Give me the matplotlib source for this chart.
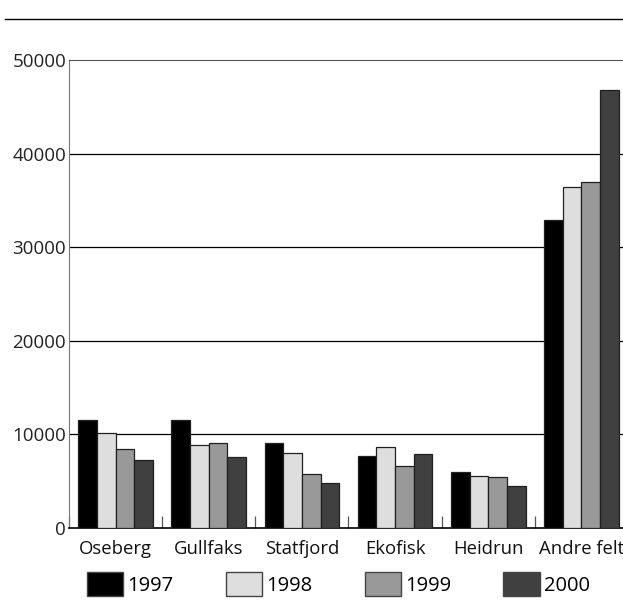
import matplotlib.pyplot as plt
from matplotlib.patches import Patch
from matplotlib.lines import Line2D
import numpy as np

plt.rcParams['font.family'] = ['Open Sans', 'DejaVu Sans']

fields = ['Oseberg', 'Gullfaks', 'Statfjord', 'Ekofisk', 'Heidrun', 'Andre felt']
years = ['1997', '1998', '1999', '2000']
v1997 = [11500, 11500, 9050, 7650, 5950, 32950]
v1998 = [10100, 8850, 7980, 8620, 5600, 36400]
v1999 = [8480, 9040, 5750, 6670, 5430, 37000]
v2000 = [7230, 7590, 4860, 7950, 4500, 46800]
colors = ['#000000', '#dedede', '#999999', '#404040']

W, H = 623, 611
fig = plt.figure(figsize=(W / 100, H / 100), dpi=100)
ax = fig.add_axes([69 / W, (H - 528) / H, (628 - 69) / W, (528 - 60) / H])

x = np.arange(len(fields))
bw = 0.2
series = [v1997, v1998, v1999, v2000]
for i, vals in enumerate(series):
    ax.bar(x + (i - 1.5) * bw, vals, bw, color=colors[i], edgecolor='#202020',
           linewidth=0.9, zorder=3)

ax.set_xlim(-0.5, len(fields) - 0.5)
ax.set_ylim(0, 50000)
ax.set_yticks([0, 10000, 20000, 30000, 40000, 50000])
ax.set_yticklabels(['0', '10000', '20000', '30000', '40000', '50000'], fontsize=13.5, color='#222222')
ax.tick_params(axis='y', length=0, pad=2)
for yv in [10000, 20000, 30000, 40000]:
    ax.axhline(yv, color='black', linewidth=0.9, zorder=1)

ax.set_xticks(x)
ax.set_xticklabels(fields, fontsize=13.3, color='#111111')
ax.tick_params(axis='x', which='major', length=0, pad=9)
ax.set_xticks(np.arange(-0.5, len(fields), 1.0), minor=True)
ax.tick_params(axis='x', which='minor', direction='in', length=9, width=0.9, color='#555555')

ax.spines['left'].set_color('#777777')
ax.spines['top'].set_color('#555555')
ax.spines['bottom'].set_color('black')
ax.spines['bottom'].set_linewidth(1.2)
ax.spines['right'].set_color('#555555')

handles = [Patch(facecolor=colors[i], edgecolor='#444444', linewidth=1) for i in range(4)]
fig.legend(handles, years, loc='center left', bbox_to_anchor=(87 / W, 1 - 584 / H),
           ncol=4, frameon=False, fontsize=14.5, handlelength=1.8, handleheight=1.4,
           handletextpad=0.2, columnspacing=2.6, borderpad=0, borderaxespad=0)

fig.add_artist(Line2D([5 / W, 1], [1 - 19 / H, 1 - 19 / H], color='black', linewidth=1))

fig.savefig('out.png', dpi=100)
